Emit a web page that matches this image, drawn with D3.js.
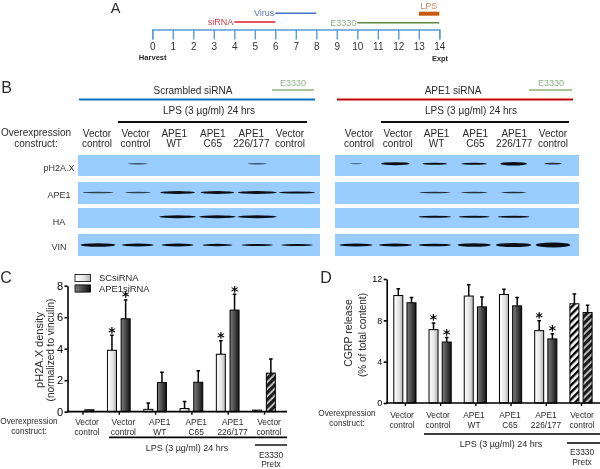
<!DOCTYPE html>
<html><head><meta charset="utf-8">
<script src="https://cdn.jsdelivr.net/npm/d3@7/dist/d3.min.js"></script>
<style>
html,body{margin:0;padding:0;background:#fff}
svg{display:block}
text{font-family:"Liberation Sans",Arial,sans-serif;fill:#2a2a2a}
</style></head><body><svg id="c" width="600" height="469"></svg>
<script>
// ---------- data ----------
const timelineDays = [0,1,2,3,4,5,6,7,8,9,10,11,12,13,14];
const timelineSpans = ["siRNA","Virus","E3330","LPS"];
const spanStart = [4,6,10,13];
const spanEnd = [6,8,14,14];

const laneLabelsTop = ["Vector","Vector","APE1","APE1","APE1","Vector"];
const laneLabelsBottom = ["control","control","WT","C65","226/177","control"];
const blotRows = ["pH2A.X","APE1","HA","VIN"];

// band length (% of lane) and density (0-1) read from the blots
const scrExtent = [[0,50,0,0,48,0],[78,64,88,85,98,90],[0,0,92,92,98,0],[87,80,80,75,78,78]];
const scrDensity = [[0,.12,0,0,.12,0],[.18,.18,.6,.6,.6,.35],[0,0,.6,.6,.6,0],[.75,.6,.6,.4,.35,.35]];
const apeExtent = [[30,72,62,64,68,44],[0,0,80,68,64,0],[0,0,82,78,80,0],[84,84,82,84,90,88]];
const apeDensity = [[.06,.65,.35,.35,.8,.22],[0,0,.22,.22,.22,0],[0,0,.3,.3,.3,0],[.65,.65,.5,.75,1,1.2]];

const cSc = [0,3.9,0.15,0.2,3.65,0.1];
const cScTop = [0,4.85,0.55,0.65,4.5,0.1];
const cApe = [0.12,5.9,1.85,1.87,6.45,2.45];
const cApeTop = [0.12,7.1,2.5,2.6,7.45,3.35];
const cScStar = [0,1,0,0,1,0];
const cApeStar = [0,1,0,0,1,0];
const cTicks = [0,2,4,6,8];

const dSc = [10.4,7.1,10.35,10.5,7.0,9.6];
const dScTop = [11.05,7.75,11.45,11.0,7.95,10.55];
const dApe = [9.7,5.9,9.3,9.4,6.2,8.75];
const dApeTop = [10.2,6.35,10.25,10.2,6.7,9.45];
const dScStar = [0,1,0,0,1,0];
const dApeStar = [0,1,0,0,1,0];
const dTicks = [0,4,8,12];

// ---------- helpers ----------
const svg = d3.select("#c");
const defs = svg.append("defs");
function grad(id,stops){
  const g=defs.append("linearGradient").attr("id",id);
  stops.forEach(([o,c])=>g.append("stop").attr("offset",o).attr("stop-color",c));
}
grad("gLight",[[0,"#ffffff"],[.55,"#e6e6e6"],[1,"#b5b5b5"]]);
grad("gDark",[[0,"#7d7d7d"],[.5,"#4a4a4a"],[1,"#111111"]]);
function hatch(id,bg,fg,w){
  const p=defs.append("pattern").attr("id",id).attr("patternUnits","userSpaceOnUse")
    .attr("width",5).attr("height",5).attr("patternTransform","rotate(45)");
  p.append("rect").attr("width",5).attr("height",5).attr("fill",bg);
  p.append("rect").attr("width",w).attr("height",5).attr("fill",fg);
}
hatch("hLight","#ffffff","#000000",2.4);
hatch("hDark","#c8c8c8","#1a1a1a",3.2);
defs.append("filter").attr("id","soft").attr("x","-10%").attr("y","-200%").attr("width","120%").attr("height","500%")
  .append("feGaussianBlur").attr("stdDeviation","0.7 0.4");
defs.append("filter").attr("id","txt").append("feGaussianBlur").attr("stdDeviation","0.22");

const root = svg.append("g").attr("filter","url(#txt)");
function T(x,y,s,size,o={}){
  return root.append("text").attr("x",x).attr("y",y).attr("dy",".35em")
    .attr("text-anchor",o.anchor||"middle").attr("font-size",size)
    .attr("font-weight",o.bold?"bold":null).style("fill",o.fill||null)
    .attr("transform",o.rot?`rotate(-90 ${x} ${y})`:null).text(s);
}
function L(x1,x2,y,w,c){
  root.append("line").attr("x1",x1).attr("x2",x2).attr("y1",y).attr("y2",y)
    .attr("stroke-width",w).attr("stroke",c);
}

// ---------- A: timeline ----------
T(115.7,7.6,"A",14.5);
const tx = d3.scaleLinear().domain([0,14]).range([152.3,439.3]);
const tl = root.append("g").attr("transform","translate(0,29.5)");
tl.call(d3.axisBottom(tx).tickValues(timelineDays).tickSize(10).tickSizeOuter(10).tickPadding(3));
tl.selectAll("path,line").attr("stroke","#5b9bd5").attr("stroke-width",1.4);
tl.selectAll("text").attr("font-size",10).style("fill","#333");
tl.attr("font-family",null);
T(152.7,57.3,"Harvest",7.6,{bold:true});
T(440,58,"Expt",7.4,{bold:true});
const spanY = {siRNA:22,Virus:13.3,E3330:22.7,LPS:13.7};
const spanCol = {siRNA:"#d8202f",Virus:"#4472c4",E3330:"#5a8a3a",LPS:"#c55a11"};
const spanW = {siRNA:1.4,Virus:1.4,E3330:1.4,LPS:4};
const spanTxt = {siRNA:"#cc3a46",Virus:"#5a78b0",E3330:"#8fb08a",LPS:"#d08a60"};
timelineSpans.forEach((s,i)=>{
  L(tx(spanStart[i]),tx(spanEnd[i]),spanY[s],spanW[s],spanCol[s]);
  if(s==="LPS") T(428.7,5.5,s,9,{fill:spanTxt[s]});
  else T(tx(spanStart[i])-1,spanY[s],s,9,{anchor:"end",fill:spanTxt[s]});
});

// ---------- B: blots ----------
T(6.5,87,"B",16);
const rowTop = d3.scaleOrdinal().domain(blotRows).range([155,182,208,234]);
const rowBot = d3.scaleOrdinal().domain(blotRows).range([176,204,228,256]);
const rowBand = d3.scaleOrdinal().domain(blotRows).range([163.7,192.5,216.8,245]);
const rowLabY = d3.scaleOrdinal().domain(blotRows).range([167.5,195,222,247]);
const thick = d3.scaleLinear().domain([0,1]).range([.6,3.8]);
const gray = d3.scaleLinear().domain([0,.3]).range(["#5f7f9f","#0c1014"]).clamp(true);

function blot(x0,x1,lanes,ext,den){
  const lane = d3.scalePoint().domain(d3.range(6)).range(lanes);
  const step = lane.step();
  blotRows.forEach((r,ri)=>{
    root.append("rect").attr("x",x0).attr("y",rowTop(r)).attr("width",x1-x0)
      .attr("height",rowBot(r)-rowTop(r)).attr("fill","#99ccff");
    const g=root.append("g").attr("filter","url(#soft)");
    g.selectAll("ellipse").data(d3.range(6).filter(i=>ext[ri][i]>0)).join("ellipse")
      .attr("cx",i=>lane(i)).attr("cy",rowBand(r))
      .attr("rx",i=>ext[ri][i]/100*step/2).attr("ry",i=>thick(den[ri][i])/2+.2)
      .attr("fill",i=>gray(den[ri][i]));
  });
}
blot(78,320,[98,297],scrExtent,scrDensity);
blot(335,579,[356,553],apeExtent,apeDensity);
blotRows.forEach(r=>T(59,rowLabY(r),r,9,{fill:"#333"}));

function header(title,tc,lineX,lineC,eX,eLine,lpsC,lpsLine,labX0,labX1){
  T(tc,90.7,title,10);
  L(lineX[0],lineX[1],99.5,2,lineC);
  T(eX,83,"E3330",9,{fill:"#8fb08a"});
  L(eLine[0],eLine[1],90,1.2,"#5a8a3a");
  T(lpsC,110,"LPS (3 µg/ml) 24 hrs",10);
  L(lpsLine[0],lpsLine[1],122,1.8,"#111");
  const lx=d3.scalePoint().domain(d3.range(6)).range([labX0,labX1]);
  laneLabelsTop.forEach((s,i)=>{T(lx(i),133,s,10);T(lx(i),143.5,laneLabelsBottom[i],10);});
}
header("Scrambled siRNA",193,[79,315],"#0070c0",293,[272,314],209,[118,307],97,290);
header("APE1 siRNA",453,[337,573],"#c00000",551,[529,572],471,[381,569],359,553);
T(36,132,"Overexpression",10);
T(36,143,"construct:",10);

// ---------- bars ----------
function panel(o){
  const y=d3.scaleLinear().domain(o.dom).range([o.y0,o.yT]);
  const g=d3.scalePoint().domain(d3.range(6)).range(o.gr);
  const off=o.off, bw=o.bw;
  const ax=root.append("g").attr("transform",`translate(${o.ax},0)`)
    .call(d3.axisLeft(y).tickValues(o.ticks).tickSize(3).tickSizeOuter(0).tickPadding(1.5));
  ax.selectAll("path,line").attr("stroke","#000").attr("stroke-width",1.6);
  ax.selectAll("text").attr("font-size",o.tickFs).style("fill","#000");
  ax.attr("font-family",null);
  function series(v,top,star,dx,fill,hatchId){
    const data=d3.range(6);
    const bar=root.append("g");
    const h=i=>Math.max(0,y(0)-y(v[i]));
    bar.selectAll("rect").data(data.filter(i=>v[i]>0)).join("rect")
      .attr("x",i=>g(i)+dx-bw/2).attr("width",bw)
      .attr("y",i=>y(v[i])).attr("height",h)
      .attr("fill",i=>i===5?`url(#${hatchId})`:`url(#${fill})`)
      .attr("stroke","#000").attr("stroke-width",1);
    bar.selectAll("path").data(data.filter(i=>top[i]>v[i])).join("path")
      .attr("d",i=>`M${g(i)+dx},${y(v[i])}V${y(top[i])}M${g(i)+dx-1.8},${y(top[i])}H${g(i)+dx+1.8}`)
      .attr("stroke","#000").attr("stroke-width",1.5).attr("fill","none");
    data.filter(i=>star[i]).forEach(i=>{
      root.append("text").attr("x",g(i)+dx).attr("y",y(top[i])+1.5)
        .attr("text-anchor","middle").attr("font-size",14).attr("font-weight","bold")
        .style("font-family","'DejaVu Sans'").style("fill","#000").text("*");
    });
  }
  series(o.sc,o.scTop,o.scStar,-off,"gLight","hLight");
  series(o.ape,o.apeTop,o.apeStar,off,"gDark","hDark");
  const xa=root.append("g").attr("transform",`translate(0,${o.y0})`)
    .call(d3.axisBottom(g).tickSize(3).tickFormat(""));
  xa.select("path").remove();
  xa.selectAll("line").attr("stroke","#000").attr("stroke-width",1.4);
  L(o.ax-.8,o.xEnd,o.y0,1.7,"#000");
  const lx=d3.scalePoint().domain(d3.range(6)).range(o.labX);
  laneLabelsTop.forEach((s,i)=>{
    T(lx(i),o.labY[0],s,8.4);T(lx(i),o.labY[1],laneLabelsBottom[i],8.4);
  });
  T(o.oc,o.ocY[0],"Overexpression",8.2);
  T(o.oc,o.ocY[1],"construct:",8.2);
  L(o.lps[0],o.xEnd,o.lpsY,1.7,"#000");
  T(o.lpsC,o.lpsTY,"LPS (3 µg/ml) 24 hrs",9);
  L(o.e[0],o.xEnd,o.eY,1.4,"#000");
  T(o.eC,o.eTY[0],"E3330",8.4);
  T(o.eC,o.eTY[1],"Pretx",8.4);
  T(o.lab1[0],o.lab1[2],o.t1,o.t1fs,{rot:true});
  T(o.lab2[0],o.lab2[2],o.t2,o.t2fs,{rot:true});
}
T(6,277,"C",16);
T(326,277,"D",16);
panel({dom:[0,8],y0:411.7,yT:285.7,gr:[82.5,264],off:6.85,bw:9,ax:67.5,ticks:cTicks,tickFs:11,
  sc:cSc,scTop:cScTop,scStar:cScStar,ape:cApe,apeTop:cApeTop,apeStar:cApeStar,xEnd:287,
  labX:[87,269],labY:[421.7,431.7],oc:29,ocY:[421.5,431],lps:[109],lpsY:437.3,lpsC:187,lpsTY:448,
  e:[255],eY:445,eC:271,eTY:[455,464],lab1:[39,0,350],lab2:[50,0,350],t1:"pH2A.X density",t1fs:11,t2:"(normalized to vinculin)",t2fs:10});
panel({dom:[0,12],y0:403,yT:279,gr:[404.9,581],off:6.6,bw:9,ax:386.7,ticks:dTicks,tickFs:9,
  sc:dSc,scTop:dScTop,scStar:dScStar,ape:dApe,apeTop:dApeTop,apeStar:dApeStar,xEnd:600,
  labX:[402,582],labY:[415,425],oc:347,ocY:[413,423],lps:[424],lpsY:434,lpsC:501,lpsTY:444,
  e:[567],eY:443,eC:582,eTY:[451.7,462],lab1:[348,0,333],lab2:[362,0,335],t1:"CGRP release",t1fs:10.5,t2:"(% of total content)",t2fs:10});

// legend for C
const lgNames=["SCsiRNA","APE1siRNA"], lgFill=["gLight","gDark"];
const lgY=d3.scalePoint().domain(lgNames).range([278,288.5]);
lgNames.forEach((n,i)=>{
  root.append("rect").attr("x",75).attr("y",lgY(n)-3.6).attr("width",15.5).attr("height",7.2)
    .attr("fill",`url(#${lgFill[i]})`).attr("stroke","#000").attr("stroke-width",.8);
  T(99,lgY(n),n,9.4,{anchor:"start"});
});
</script></body></html>
